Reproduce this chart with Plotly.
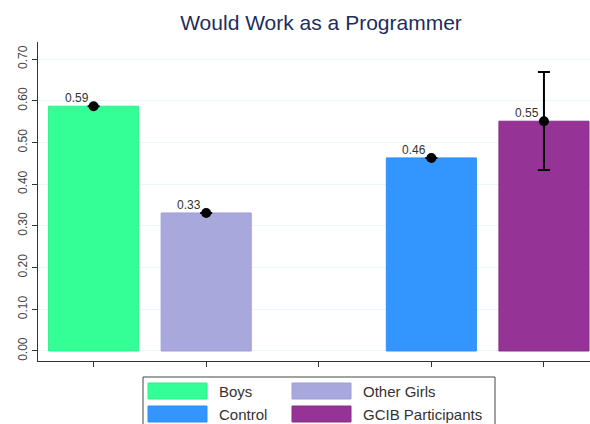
import plotly.graph_objects as go

categories = ["Boys", "Other Girls", "", "Control", "GCIB Participants"]
positions = [0, 1, 2, 3, 4]
values = [0.587, 0.331, None, 0.463, 0.551]
labels = ["0.59", "0.33", "", "0.46", "0.55"]
err_plus = [0, 0, 0, 0, 0.118]
err_minus = [0, 0, 0, 0, 0.117]
colors = ["#33FF96", "#A9A8DC", "#FFFFFF", "#3396FF", "#963396"]
edge_colors = ["#2EF08C", "#9E9CD6", "#FFFFFF", "#2E8EF5", "#872C87"]
yticks = [0.0, 0.1, 0.2, 0.3, 0.4, 0.5, 0.6, 0.7]

FONT = "Liberation Sans, Arial, sans-serif"

fig = go.Figure()

bar_idx = [i for i, v in enumerate(values) if v is not None]
fig.add_trace(go.Bar(
    x=[positions[i] for i in bar_idx],
    y=[values[i] for i in bar_idx],
    width=0.8,
    marker=dict(color=[colors[i] for i in bar_idx],
                line=dict(color=[edge_colors[i] for i in bar_idx], width=1)),
    showlegend=False,
))

fig.add_trace(go.Scatter(
    x=[positions[i] for i in bar_idx],
    y=[values[i] for i in bar_idx],
    mode="markers",
    marker=dict(color="black", size=10),
    error_y=dict(type="data", symmetric=False,
                 array=[err_plus[i] for i in bar_idx],
                 arrayminus=[err_minus[i] for i in bar_idx],
                 color="black", thickness=2, width=6),
    showlegend=False,
    cliponaxis=False,
))

annotations = []
for i in bar_idx:
    annotations.append(dict(x=positions[i], y=values[i], xref="x", yref="y",
                            text=labels[i], showarrow=False,
                            xanchor="right", yanchor="bottom",
                            xshift=-3, yshift=-1,
                            font=dict(family=FONT, size=12, color="#333333")))

# Legend drawn in paper/pixel terms
shapes = []
W, H = 590, 424
ml, mr, mt, mb = 38, 0, 42, 63
pw, ph = W - ml - mr, H - mt - mb


def px2paper(x, y):
    return (x - ml) / pw, (H - mb - y) / ph


legend_items = [categories[0], categories[1], categories[3], categories[4]]
legend_cols = [colors[0], colors[1], colors[3], colors[4]]
legend_edges = [edge_colors[0], edge_colors[1], edge_colors[3], edge_colors[4]]
# frame
fx0, fy0 = px2paper(143, 377)
fx1, fy1 = px2paper(495, 432)
shapes.append(dict(type="rect", xref="paper", yref="paper", x0=fx0, x1=fx1, y0=fy1, y1=fy0,
                   line=dict(color="#444444", width=1), fillcolor="white"))
slots = [(148, 383), (292, 383), (148, 406), (292, 406)]
for (sx, sy), name, c, ec in zip(slots, legend_items, legend_cols, legend_edges):
    x0, y0 = px2paper(sx, sy)
    x1, y1 = px2paper(sx + 59, sy + 16)
    shapes.append(dict(type="rect", xref="paper", yref="paper", x0=x0, x1=x1, y0=y1, y1=y0,
                       line=dict(color=ec, width=1), fillcolor=c))
    tx, ty = px2paper(sx + 69, sy + 8)
    annotations.append(dict(xref="paper", yref="paper", x=tx, y=ty, text=name, showarrow=False,
                            xanchor="left", yanchor="middle",
                            font=dict(family=FONT, size=15, color="#333333")))

fig.update_layout(
    width=W, height=H,
    margin=dict(l=ml, r=mr, t=mt, b=mb),
    paper_bgcolor="white", plot_bgcolor="white",
    title=dict(text="Would Work as a Programmer", x=321 / W, xanchor="center",
               y=1 - 23 / H, yanchor="middle",
               font=dict(family=FONT, size=21, color="#1E2D5C")),
    xaxis=dict(range=[-0.494, 4.409], tickvals=positions, ticktext=["" for _ in positions],
               ticks="outside", ticklen=5, tickcolor="#333333", tickwidth=1,
               showline=True, linecolor="#333333", linewidth=1,
               showgrid=False, zeroline=False, fixedrange=True),
    yaxis=dict(range=[-0.024, 0.741], tickvals=yticks,
               ticktext=[f"{v:.2f}" for v in yticks], tickangle=-90,
               ticks="outside", ticklen=5, tickcolor="#333333", tickwidth=1,
               tickfont=dict(family=FONT, size=12, color="#444444"),
               showline=True, linecolor="#333333", linewidth=1,
               showgrid=True, gridcolor="#E6F8FA", gridwidth=1,
               zeroline=False),
    shapes=shapes,
    annotations=annotations,
    bargap=0.2,
)

fig.write_html("out.html")
